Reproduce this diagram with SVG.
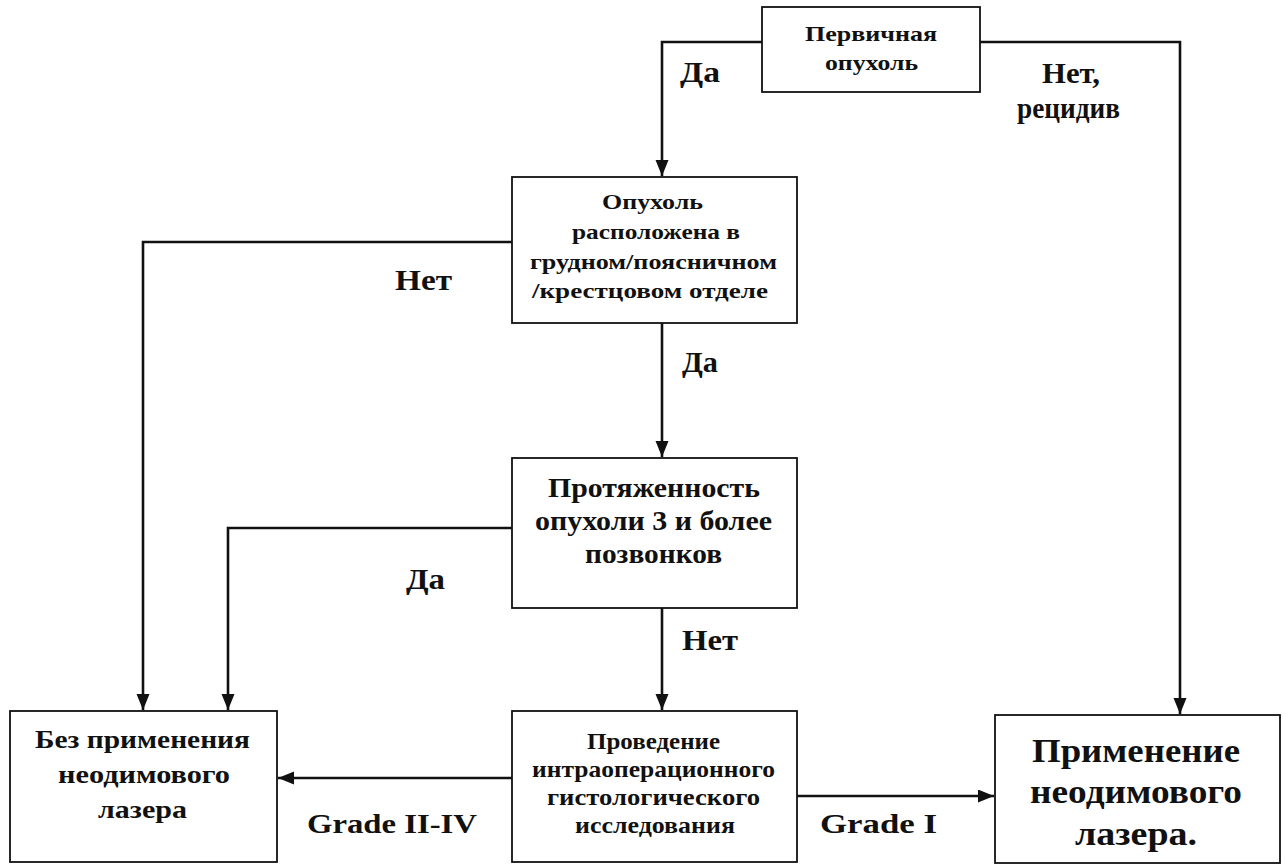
<svg xmlns="http://www.w3.org/2000/svg" width="1285" height="864" viewBox="0 0 1285 864">
<style>
.box{fill:#fff;stroke:#111;stroke-width:1.8}
.ln{fill:none;stroke:#111;stroke-width:2.6}
text{font-family:"Liberation Serif","Times New Roman",serif;font-weight:bold;fill:#111}
.b1{font-size:21px}
.b2{font-size:22px}
.b3{font-size:28px}
.b4{font-size:24px}
.b5{font-size:34px}
.bz{font-size:25px}
.lb{font-size:29px}
.gr{font-size:28px}
</style>
<defs>
<marker id="ah" markerUnits="userSpaceOnUse" markerWidth="17" markerHeight="14" refX="16" refY="6.5" orient="auto">
<path d="M0,0 L16,6.5 L0,13 Z" fill="#111"/>
</marker>
</defs>
<rect width="1285" height="864" fill="#fff"/>
<g id="connectors">
<path class="ln" d="M762,42 H662 V176" marker-end="url(#ah)"/>
<path class="ln" d="M980,42 H1180 V714" marker-end="url(#ah)"/>
<path class="ln" d="M662,323 V457" marker-end="url(#ah)"/>
<path class="ln" d="M512,242 H143 V710" marker-end="url(#ah)"/>
<path class="ln" d="M512,528 H228 V710" marker-end="url(#ah)"/>
<path class="ln" d="M662,608 V710" marker-end="url(#ah)"/>
<path class="ln" d="M512,778 H278" marker-end="url(#ah)"/>
<path class="ln" d="M797,796 H994" marker-end="url(#ah)"/>
</g>
<g id="labels">
<text class="lb" x="680" y="82" textLength="40" lengthAdjust="spacingAndGlyphs">Да</text>
<text class="lb" x="1042" y="83" textLength="58" lengthAdjust="spacingAndGlyphs">Нет,</text>
<text class="lb" x="1017" y="118" textLength="103" lengthAdjust="spacingAndGlyphs">рецидив</text>
<text class="lb" x="395" y="290" textLength="57" lengthAdjust="spacingAndGlyphs">Нет</text>
<text class="lb" x="682" y="372" textLength="36" lengthAdjust="spacingAndGlyphs">Да</text>
<text class="lb" x="406" y="589" textLength="39" lengthAdjust="spacingAndGlyphs">Да</text>
<text class="lb" x="682" y="650" textLength="56" lengthAdjust="spacingAndGlyphs">Нет</text>
<text class="gr" x="307" y="833" textLength="170" lengthAdjust="spacingAndGlyphs">Grade II-IV</text>
<text class="gr" x="820" y="833" textLength="117" lengthAdjust="spacingAndGlyphs">Grade I</text>
</g>
<g id="n1">
<rect class="box" x="762" y="7" width="218" height="85"/>
<text class="b1" x="805" y="41" textLength="132" lengthAdjust="spacingAndGlyphs">Первичная</text>
<text class="b1" x="825" y="70" textLength="93" lengthAdjust="spacingAndGlyphs">опухоль</text>
</g>
<g id="n2">
<rect class="box" x="512" y="177" width="285" height="146"/>
<text class="b2" x="602" y="209" textLength="101" lengthAdjust="spacingAndGlyphs">Опухоль</text>
<text class="b2" x="572" y="239" textLength="168" lengthAdjust="spacingAndGlyphs">расположена в</text>
<text class="b2" x="530" y="269" textLength="247" lengthAdjust="spacingAndGlyphs">грудном/поясничном</text>
<text class="b2" x="532" y="298" textLength="236" lengthAdjust="spacingAndGlyphs">/крестцовом отделе</text>
</g>
<g id="n3">
<rect class="box" x="512" y="458" width="285" height="150"/>
<text class="b3" x="548" y="497" textLength="212" lengthAdjust="spacingAndGlyphs">Протяженность</text>
<text class="b3" x="535" y="530" textLength="237" lengthAdjust="spacingAndGlyphs">опухоли 3 и более</text>
<text class="b3" x="585" y="563" textLength="137" lengthAdjust="spacingAndGlyphs">позвонков</text>
</g>
<g id="n4">
<rect class="box" x="10" y="711" width="267" height="151"/>
<text class="bz" x="35" y="748" textLength="215" lengthAdjust="spacingAndGlyphs">Без применения</text>
<text class="bz" x="58" y="783" textLength="172" lengthAdjust="spacingAndGlyphs">неодимового</text>
<text class="bz" x="98" y="818" textLength="89" lengthAdjust="spacingAndGlyphs">лазера</text>
</g>
<g id="n5">
<rect class="box" x="512" y="711" width="285" height="151"/>
<text class="b4" x="587" y="749" textLength="133" lengthAdjust="spacingAndGlyphs">Проведение</text>
<text class="b4" x="532" y="777" textLength="243" lengthAdjust="spacingAndGlyphs">интраоперационного</text>
<text class="b4" x="547" y="805" textLength="213" lengthAdjust="spacingAndGlyphs">гистологического</text>
<text class="b4" x="575" y="833" textLength="160" lengthAdjust="spacingAndGlyphs">исследования</text>
</g>
<g id="n6">
<rect class="box" x="995" y="715" width="285" height="148"/>
<text class="b5" x="1032" y="762" textLength="208" lengthAdjust="spacingAndGlyphs">Применение</text>
<text class="b5" x="1030" y="803" textLength="212" lengthAdjust="spacingAndGlyphs">неодимового</text>
<text class="b5" x="1075" y="845" textLength="122" lengthAdjust="spacingAndGlyphs">лазера.</text>
</g>
</svg>
